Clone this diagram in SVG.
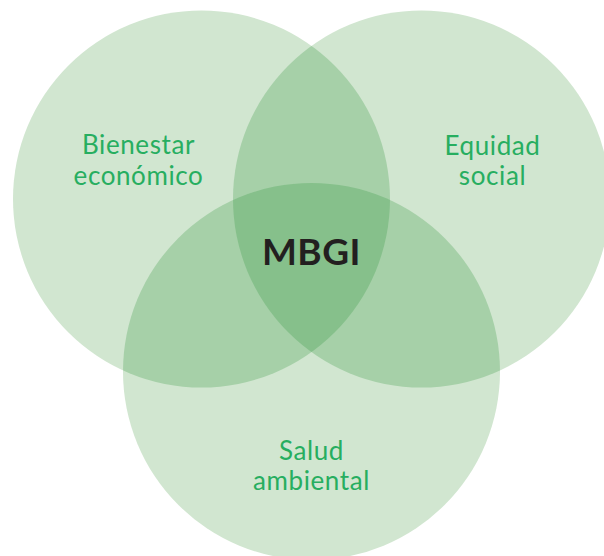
<svg xmlns="http://www.w3.org/2000/svg" width="604" height="556" viewBox="0 0 604 556">
  <style>
    .circle { fill: #d1e6d0; }
    .double { fill: #a6d0a8; }
    .triple { fill: #86c08b; }
    .label { font-family: Lato, "Noto Sans", "Liberation Sans", sans-serif; font-size: 26px; fill: #27ae60; text-anchor: middle; letter-spacing: 0.6px; }
    .center { font-family: Lato, "Noto Sans", "Liberation Sans", sans-serif; font-size: 37px; font-weight: bold; fill: #231f20; text-anchor: middle; letter-spacing: 0.5px; }
  </style>
  <defs>
    <clipPath id="clipL"><circle cx="201.5" cy="199" r="188.5"/></clipPath>
    <clipPath id="clipR"><circle cx="421.5" cy="199" r="188.5"/></clipPath>
    <clipPath id="clipB"><circle cx="311.5" cy="371.5" r="188.5"/></clipPath>
  </defs>
  <rect width="604" height="556" fill="#ffffff"/>
  <g id="bienestar-economico">
    <circle class="circle" cx="201.5" cy="199" r="188.5"/>
  </g>
  <g id="equidad-social">
    <circle class="circle" cx="421.5" cy="199" r="188.5"/>
  </g>
  <g id="salud-ambiental">
    <circle class="circle" cx="311.5" cy="371.5" r="188.5"/>
  </g>
  <g id="overlaps">
    <circle class="double" cx="421.5" cy="199" r="188.5" clip-path="url(#clipL)"/>
    <circle class="double" cx="311.5" cy="371.5" r="188.5" clip-path="url(#clipL)"/>
    <circle class="double" cx="311.5" cy="371.5" r="188.5" clip-path="url(#clipR)"/>
    <g clip-path="url(#clipL)">
      <circle class="triple" cx="421.5" cy="199" r="188.5" clip-path="url(#clipB)"/>
    </g>
  </g>
  <g id="labels">
    <text class="label" x="138.5" y="154">Bienestar</text>
    <text class="label" x="138.5" y="185">económico</text>
    <text class="label" x="492.5" y="155">Equidad</text>
    <text class="label" x="492.5" y="185">social</text>
    <text class="label" x="311.5" y="460">Salud</text>
    <text class="label" x="311.5" y="490">ambiental</text>
  </g>
  <g id="mbgi">
    <text class="center" x="311.5" y="265">MBGI</text>
  </g>
</svg>
